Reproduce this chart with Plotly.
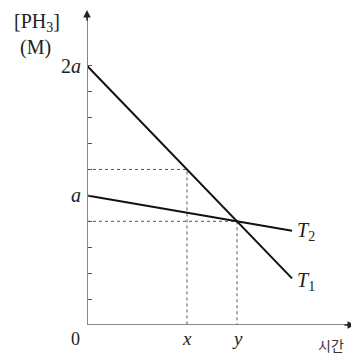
import plotly.graph_objects as go

# Data (time in arbitrary units, concentration in units of a)
t_line = [0, 205]
T1_conc = [2.0, 0.36]
T2_conc = [1.0, 0.727]
x_time = 100
y_time = 150
x_conc = 1.2
y_conc = 0.8
ytick_vals = [0.2, 0.4, 0.6, 0.8, 1.0, 1.2, 1.4, 1.6, 1.8, 2.0]
ytick_text = ["", "", "", "", "<i>a</i>", "", "", "", "", "2<i>a</i>"]

serif = "Liberation Serif, Times New Roman, serif"

# page body has an 8px margin; compensate so the picture lines up with the window
OFF = 8
W, H = 359 - OFF, 354 - OFF
ML, MR, MT, MB = 87 - OFF, 4, 10 - OFF, 29
PW, PH = W - ML - MR, H - MT - MB


def px(xp):
    return (xp - OFF - ML) / PW


def py(yp):
    return (H - MB - (yp - OFF)) / PH


fig = go.Figure()

# dotted guide lines
fig.add_trace(go.Scatter(x=[0, x_time, x_time], y=[x_conc, x_conc, 0], mode="lines",
                         line=dict(color="#555", width=1, dash="dot"), hoverinfo="skip"))
fig.add_trace(go.Scatter(x=[0, y_time, y_time], y=[y_conc, y_conc, 0], mode="lines",
                         line=dict(color="#555", width=1, dash="dot"), hoverinfo="skip"))

# main lines
fig.add_trace(go.Scatter(x=t_line, y=T1_conc, mode="lines", line=dict(color="#111", width=2)))
fig.add_trace(go.Scatter(x=t_line, y=T2_conc, mode="lines", line=dict(color="#111", width=2)))

xmax = 268
ymax = 2.43

fig.update_layout(
    width=W, height=H,
    margin=dict(l=ML, r=MR, t=MT, b=MB),
    paper_bgcolor="white", plot_bgcolor="white",
    showlegend=False,
    xaxis=dict(range=[0, xmax], showgrid=False, zeroline=False, showline=False,
               showticklabels=False, ticks="", automargin=False),
    yaxis=dict(range=[0, ymax], showgrid=False, zeroline=False, showline=False,
               tickvals=ytick_vals, ticktext=ytick_text, ticks="inside", ticklen=5,
               tickcolor="#555", tickwidth=1, automargin=False, ticklabelstandoff=5,
               tickfont=dict(family=serif, size=20, color="#222")),
)

# axis lines
fig.add_shape(type="line", xref="x", yref="y", x0=0, y0=0, x1=0, y1=ymax - 0.05,
              line=dict(color="#888", width=2))
fig.add_shape(type="line", xref="x", yref="y", x0=0, y0=0, x1=xmax - 3, y1=0,
              line=dict(color="#888", width=2))
# arrowheads
fig.add_annotation(x=0, y=ymax, xref="x", yref="y", ax=0, ay=12, showarrow=True,
                   arrowhead=2, arrowsize=1, arrowwidth=1.5, arrowcolor="#222", text="")
fig.add_annotation(x=xmax, y=0, xref="x", yref="y", ax=-12, ay=0, showarrow=True,
                   arrowhead=2, arrowsize=1, arrowwidth=1.5, arrowcolor="#222", text="")

# labels
fig.add_annotation(x=px(37), y=py(23), xref="paper", yref="paper", text="[PH<sub>3</sub>]",
                   xanchor="center", yanchor="middle",
                   showarrow=False, font=dict(family=serif, size=20, color="#222"))
fig.add_annotation(x=px(35), y=py(47), xref="paper", yref="paper", text="(M)", showarrow=False,
                   xanchor="center", yanchor="middle",
                   font=dict(family=serif, size=20, color="#222"))
fig.add_annotation(x=0, y=0, xref="x", yref="y", xshift=-12, yshift=-14, text="0",
                   showarrow=False, font=dict(family=serif, size=18, color="#222"))
fig.add_annotation(x=x_time, y=0, xref="x", yref="y", yshift=-13, text="<i>x</i>",
                   showarrow=False, font=dict(family=serif, size=19, color="#222"))
fig.add_annotation(x=y_time, y=0, xref="x", yref="y", yshift=-13, text="<i>y</i>",
                   showarrow=False, font=dict(family=serif, size=19, color="#222"))
fig.add_annotation(x=xmax, y=0, xref="x", yref="y", xshift=-24, yshift=-20, text="시간",
                   showarrow=False, font=dict(family="Noto Sans CJK KR", size=14, color="#333"))
fig.add_annotation(x=t_line[1], y=T2_conc[1], xref="x", yref="y", xshift=14, yshift=-1,
                   text="<i>T</i><sub>2</sub>", showarrow=False,
                   font=dict(family=serif, size=20, color="#222"))
fig.add_annotation(x=t_line[1], y=T1_conc[1], xref="x", yref="y", xshift=14, yshift=-3,
                   text="<i>T</i><sub>1</sub>", showarrow=False,
                   font=dict(family=serif, size=20, color="#222"))

fig.write_html("out.html")
